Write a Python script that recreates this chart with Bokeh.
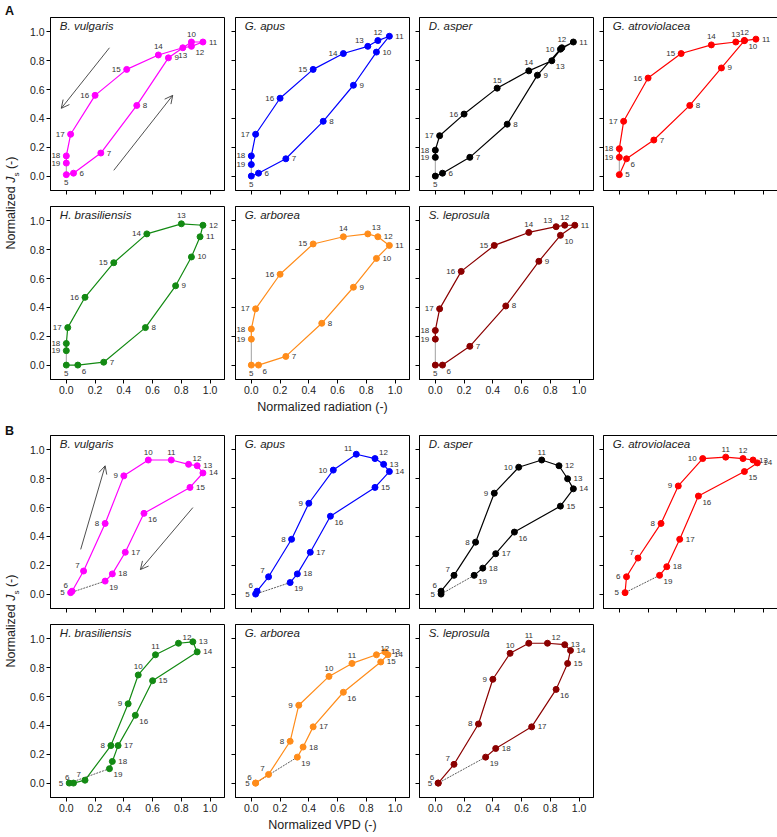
from bokeh.plotting import figure
from bokeh.models import (Range1d, FixedTicker, PrintfTickFormatter, CustomJSTickFormatter,
                          ColumnDataSource, Label, Arrow, OpenHead, Div)
from bokeh.layouts import row, column
from bokeh.embed import file_html
from bokeh.resources import INLINE
from bokeh.core.properties import value, field

# ---------------- data ----------------
hours = [5, 6, 7, 8, 9, 10, 11, 12, 13, 14, 15, 16, 17, 18, 19]
species = ["B. vulgaris", "G. apus", "D. asper", "G. atroviolacea",
           "H. brasiliensis", "G. arborea", "S. leprosula"]
colors = ["#ff00ff", "#0000ff", "#000000", "#ff0000", "#138a13", "#ff8c1a", "#8b0000"]

bv_js = [0.01, 0.02, 0.16, 0.49, 0.82, 0.93, 0.93, 0.90, 0.89, 0.84, 0.74, 0.56, 0.29, 0.14, 0.09]
bv_rad = [0.00, 0.05, 0.24, 0.49, 0.71, 0.87, 0.95, 0.87, 0.81, 0.64, 0.42, 0.20, 0.03, 0.00, 0.00]
bv_vpd = [0.03, 0.04, 0.12, 0.27, 0.40, 0.57, 0.73, 0.85, 0.91, 0.95, 0.86, 0.54, 0.41, 0.32, 0.27]

ga_js = [0.00, 0.02, 0.12, 0.38, 0.63, 0.86, 0.97, 0.94, 0.90, 0.85, 0.74, 0.54, 0.29, 0.14, 0.08]
ga_rad = [0.00, 0.05, 0.24, 0.50, 0.71, 0.87, 0.96, 0.88, 0.81, 0.64, 0.43, 0.20, 0.03, 0.00, 0.00]
ga_vpd = [0.03, 0.04, 0.12, 0.28, 0.40, 0.57, 0.73, 0.86, 0.92, 0.96, 0.86, 0.55, 0.41, 0.32, 0.27]

da_js = [0.00, 0.02, 0.13, 0.36, 0.70, 0.88, 0.93, 0.89, 0.80, 0.73, 0.61, 0.43, 0.28, 0.18, 0.13]
da_rad = [0.00, 0.05, 0.24, 0.50, 0.71, 0.87, 0.96, 0.88, 0.81, 0.65, 0.43, 0.20, 0.03, 0.00, 0.00]
da_vpd = [0.04, 0.04, 0.13, 0.28, 0.41, 0.58, 0.74, 0.86, 0.92, 0.96, 0.87, 0.55, 0.42, 0.33, 0.27]

gat_js = [0.01, 0.12, 0.25, 0.49, 0.75, 0.94, 0.95, 0.94, 0.93, 0.91, 0.85, 0.68, 0.38, 0.19, 0.13]
gat_rad = [0.00, 0.05, 0.24, 0.49, 0.71, 0.87, 0.95, 0.87, 0.81, 0.64, 0.43, 0.20, 0.03, 0.00, 0.00]
gat_vpd = [0.04, 0.05, 0.13, 0.29, 0.41, 0.58, 0.74, 0.86, 0.93, 0.96, 0.87, 0.55, 0.42, 0.33, 0.28]

hb_js = [0.00, 0.00, 0.02, 0.26, 0.55, 0.75, 0.89, 0.97, 0.98, 0.91, 0.71, 0.47, 0.26, 0.15, 0.10]
hb_rad = [0.00, 0.08, 0.26, 0.55, 0.76, 0.87, 0.93, 0.95, 0.80, 0.56, 0.33, 0.13, 0.01, 0.00, 0.00]
hb_vpd = [0.02, 0.05, 0.13, 0.31, 0.43, 0.50, 0.62, 0.78, 0.88, 0.91, 0.60, 0.48, 0.36, 0.32, 0.30]

gar_js = [0.00, 0.00, 0.06, 0.29, 0.54, 0.74, 0.83, 0.89, 0.91, 0.89, 0.84, 0.63, 0.39, 0.25, 0.18]
gar_rad = [0.00, 0.05, 0.24, 0.49, 0.71, 0.87, 0.96, 0.88, 0.81, 0.64, 0.43, 0.20, 0.03, 0.00, 0.00]
gar_vpd = [0.03, 0.03, 0.12, 0.27, 0.33, 0.54, 0.70, 0.87, 0.93, 0.95, 0.90, 0.64, 0.43, 0.36, 0.32]

sl_js = [0.00, 0.00, 0.13, 0.41, 0.72, 0.90, 0.97, 0.97, 0.96, 0.92, 0.83, 0.65, 0.39, 0.24, 0.18]
sl_rad = [0.00, 0.05, 0.24, 0.49, 0.72, 0.87, 0.97, 0.90, 0.84, 0.65, 0.41, 0.18, 0.03, 0.00, 0.00]
sl_vpd = [0.02, 0.02, 0.13, 0.30, 0.40, 0.52, 0.65, 0.78, 0.90, 0.94, 0.92, 0.84, 0.67, 0.42, 0.35]

js_all = [bv_js, ga_js, da_js, gat_js, hb_js, gar_js, sl_js]
rad_all = [bv_rad, ga_rad, da_rad, gat_rad, hb_rad, gar_rad, sl_rad]
vpd_all = [bv_vpd, ga_vpd, da_vpd, gat_vpd, hb_vpd, gar_vpd, sl_vpd]

ticks = [0.0, 0.2, 0.4, 0.6, 0.8, 1.0]

# direction arrows in the B. vulgaris panels: (x_start, y_start, x_end, y_end)
arrows_rad = [(0.30, 0.89, -0.035, 0.47), (0.33, 0.04, 0.74, 0.56)]
arrows_vpd = [(0.10, 0.31, 0.27, 0.89), (0.88, 0.60, 0.515, 0.17)]

# ---------------- label placement (styling) ----------------
OFF = {'r': (6, 0, 'left'), 'l': (-6, 0, 'right'), 'a': (0, -8, 'center'), 'b': (0, 8, 'center'),
       'ra': (4, -6, 'left'), 'rb': (4, 6, 'left'), 'la': (-4, -6, 'right'), 'lb': (-4, 6, 'right')}
DEF_A = ['b', 'r', 'r', 'r', 'r', 'r', 'r', 'r', 'a', 'a', 'l', 'l', 'l', 'l', 'l']
DEF_B = ['l', 'la', 'la', 'l', 'l', 'a', 'a', 'ra', 'r', 'r', 'r', 'rb', 'r', 'r', 'rb']
OVER_A = {
    "B. vulgaris": {10: 'a', 12: 'rb', 13: 'b'},
    "G. apus": {12: 'a', 13: 'la', 14: 'l'},
    "D. asper": {12: 'a', 10: 'l', 13: 'rb', 14: 'a', 15: 'a'},
    "G. atroviolacea": {10: 'rb', 12: 'a', 13: 'a', 14: 'a', 5: 'r', 6: 'rb'},
    "H. brasiliensis": {13: 'a', 12: 'r', 14: 'l', 6: 'rb'},
    "G. arborea": {13: 'ra', 14: 'a', 6: 'rb'},
    "S. leprosula": {12: 'a', 13: 'la', 14: 'a', 10: 'rb', 6: 'rb'},
}
OVER_B = {
    "B. vulgaris": {},
    "G. apus": {10: 'l', 11: 'la'},
    "D. asper": {10: 'l', 12: 'r'},
    "G. atroviolacea": {6: 'l', 10: 'l', 12: 'a', 15: 'rb'},
    "H. brasiliensis": {},
    "G. arborea": {},
    "S. leprosula": {},
}

FONT = "Liberation Sans"
FW, FH = 174, 173


def make_panel(i, xs, group, left, right, top, bottom, show_x, show_y, xlabel=None):
    name = species[i]
    color = colors[i]
    ys = js_all[i]
    p = figure(frame_width=FW, frame_height=FH, x_range=Range1d(-0.11, 1.1), y_range=Range1d(-0.1, 1.1),
               output_backend="svg", toolbar_location=None,
               min_border_left=left, min_border_right=right, min_border_top=top, min_border_bottom=bottom)
    p.xgrid.visible = False
    p.ygrid.visible = False
    p.outline_line_color = "black"
    p.outline_line_width = 1
    p.background_fill_color = "white"
    p.border_fill_color = "white"
    for ax in (p.xaxis[0], p.yaxis[0]):
        ax.ticker = FixedTicker(ticks=ticks)
        ax.major_tick_out = 4
        ax.major_tick_in = 0
        ax.minor_tick_line_color = None
        ax.axis_line_color = "black"
        ax.major_tick_line_color = "black"
        ax.major_label_standoff = 2
        ax.major_label_text_font = FONT
        ax.major_label_text_font_size = "10.5px"
        ax.major_label_text_color = "#222222"
    p.xaxis[0].formatter = PrintfTickFormatter(format="%.1f") if show_x else CustomJSTickFormatter(code="return ''")
    p.yaxis[0].formatter = PrintfTickFormatter(format="%.1f") if show_y else CustomJSTickFormatter(code="return ''")
    if xlabel:
        p.xaxis[0].axis_label = xlabel
        p.xaxis[0].axis_label_text_font = FONT
        p.xaxis[0].axis_label_text_font_style = "normal"
        p.xaxis[0].axis_label_text_font_size = "12.5px"
        p.xaxis[0].axis_label_standoff = 3
        p.xaxis[0].axis_label_text_color = "#222222"

    # closing segment 19 -> 5
    if group == 'A':
        p.line([xs[-1], xs[0]], [ys[-1], ys[0]], line_color="#888888", line_width=0.8)
    else:
        p.line([xs[-1], xs[0]], [ys[-1], ys[0]], line_color="#333333", line_width=0.8, line_dash="2 1")
    p.line(xs, ys, line_color=color, line_width=1.2)
    p.scatter(xs, ys, size=6, fill_color=color, line_color=color)

    defaults = DEF_A if group == 'A' else DEF_B
    over = (OVER_A if group == 'A' else OVER_B)[name]
    xo, yo, al = [], [], []
    for k, h in enumerate(hours):
        code = over.get(h, defaults[k])
        dx, dy, a = OFF[code]
        xo.append(dx)
        yo.append(dy)
        al.append(a)
    src = ColumnDataSource(dict(x=xs, y=ys, t=[str(h) for h in hours], xo=xo, yo=yo, al=al))
    p.text(x='x', y='y', text='t', x_offset='xo', y_offset='yo', text_align=field('al'),
           text_baseline=value('middle'), text_font=value(FONT), text_font_size=value('8px'),
           text_color='#333333', source=src)

    p.add_layout(Label(x=-0.045, y=1.04, text=name, text_font=FONT, text_font_style="italic",
                       text_font_size="11.5px", text_baseline="middle", text_color="#222222"))

    if name == "B. vulgaris":
        for (x0, y0, x1, y1) in (arrows_rad if group == 'A' else arrows_vpd):
            p.add_layout(Arrow(end=OpenHead(size=8, line_width=0.8, line_color="#222222"),
                               x_start=x0, y_start=y0, x_end=x1, y_end=y1,
                               line_width=0.8, line_color="#222222"))
    return p


def build_group(group, top1, bot1, top2, bot2, xlabel):
    xs_all = rad_all if group == 'A' else vpd_all
    lefts = [24, 9, 8, 8]
    rights = [2, 2, 2, 1]
    r1 = []
    for c in range(4):
        r1.append(make_panel(c, xs_all[c], group, lefts[c], rights[c], top1, bot1, False, c == 0))
    r2 = []
    for c in range(3):
        r2.append(make_panel(4 + c, xs_all[4 + c], group, lefts[c], rights[c], top2, bot2, True, c == 0,
                             xlabel if c == 1 else None))
    return column(row(*r1), row(*r2))


def side_div(letter, height, label_center, letter_top):
    html = ('<div style="position:relative;width:16px;height:%dpx;">'
            '<div style="position:absolute;left:0px;top:%dpx;font-family:\'Liberation Sans\';'
            'font-weight:bold;font-size:12.5px;line-height:1;color:#111;">%s</div>'
            '<div style="position:absolute;left:8px;top:%dpx;transform:translate(-50%%,-50%%) rotate(-90deg);'
            'white-space:nowrap;font-family:\'Liberation Sans\';font-size:12.5px;line-height:1;color:#222;">'
            'Normalized <i>J</i><sub style="font-size:8px;">s</sub> (-)</div></div>'
            % (height, letter_top, letter, label_center))
    return Div(text=html, width=16, height=height)


gA = build_group('A', 17, 14, 2, 40, "Normalized radiation (-)")
gB = build_group('B', 6, 14, 2, 34, "Normalized VPD (-)")

divA = side_div("A", 419, 198, 0)
divB = side_div("B", 402, 187, -9)

layout = column(row(divA, gA), row(divB, gB))

open("out.html", "w").write(file_html(layout, INLINE))
